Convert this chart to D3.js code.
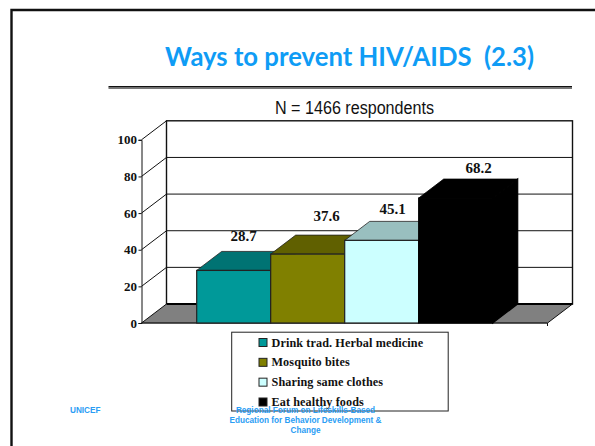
<!DOCTYPE html>
<html><head><meta charset="utf-8"><script src="https://cdn.jsdelivr.net/npm/d3@7"></script>
<style>html,body{margin:0;padding:0;background:#fff;overflow:hidden}svg{display:block}</style></head>
<body><svg id="c" width="595" height="446"></svg>
<script>
const categories = ["Drink trad. Herbal medicine","Mosquito bites","Sharing same clothes","Eat healthy foods"];
const values = [28.7,37.6,45.1,68.2];
const frontColors = ["#009999","#808000","#CCFFFF","#000000"];
const topColors = ["#007373","#606000","#99BFBF","#000000"];
const yTicks = [0,20,40,60,80,100];
const titleText = "Ways to prevent HIV/AIDS  (2.3)";
const subtitleText = "N = 1466 respondents";
const footerLeft = "UNICEF";
const footerCenter = ["Regional Forum on Lifeskills-Based","Education for Behavior Development &","Change"];
// label placement relative to each bar's centre and top (layout only)
const labelNudgeX = [10,19,11,23];
const labelNudgeY = [-29,-33,-26,-25.3];

const svg = d3.select("#c");
const blue = "#0f9cf5", serif = "'Liberation Serif',serif", sans = "'Liberation Sans',sans-serif";
const dx = 25, dy = -19;
const y = d3.scaleLinear().domain([0,100]).range([323,139.8]);
const x = d3.scaleBand().domain(categories).range([196.7,492.7]);
const xl = 141.5, xr = 547.5;

svg.append("path").attr("d","M11.5 446V10H595").attr("fill","none").attr("stroke","#111").attr("stroke-width",2.4);

svg.append("text").attr("x",349.5).attr("y",65.5).attr("text-anchor","middle")
  .attr("font-family","Lato,sans-serif").attr("font-weight",700).attr("font-size",25.7)
  .attr("fill",blue).style("white-space","pre").text(titleText);
svg.append("rect").attr("x",108.5).attr("y",86).attr("width",463.5).attr("height",1.6).attr("fill","#111");
svg.append("rect").attr("x",108.5).attr("y",87.6).attr("width",463.5).attr("height",1.4).attr("fill","#777");
svg.append("text").attr("x",354.5).attr("y",114).attr("text-anchor","middle")
  .attr("font-family",sans).attr("font-size",18).attr("textLength",159).attr("lengthAdjust","spacingAndGlyphs")
  .attr("fill","#111").text(subtitleText);

const g = svg.append("g");
g.append("rect").attr("x",xl+dx).attr("y",y(100)+dy).attr("width",xr-xl).attr("height",y(0)-y(100))
  .attr("fill","#fff").attr("stroke","#111").attr("stroke-width",1.4);
g.append("path").attr("d",`M${xl} ${y(0)}L${xl+dx} ${y(0)+dy}H${xr+dx}L${xr} ${y(0)}Z`).attr("fill","#808080");
g.append("line").attr("x1",xl+dx).attr("x2",xr+dx).attr("y1",y(0)+dy).attr("y2",y(0)+dy).attr("stroke","#000").attr("stroke-width",1.8);
g.selectAll("line.grid").data(yTicks.filter(d=>d>0&&d<100)).join("line").attr("class","grid")
  .attr("x1",xl+dx).attr("x2",xr+dx).attr("y1",d=>y(d)+dy).attr("y2",d=>y(d)+dy)
  .attr("stroke","#111").attr("stroke-width",1);
g.selectAll("line.side").data(yTicks).join("line").attr("class","side")
  .attr("x1",xl).attr("x2",xl+dx).attr("y1",d=>y(d)).attr("y2",d=>y(d)+dy)
  .attr("stroke","#111").attr("stroke-width",1);
g.append("line").attr("x1",xl).attr("x2",xr).attr("y1",y(0)).attr("y2",y(0)).attr("stroke","#222").attr("stroke-width",1.6);
g.append("line").attr("x1",xr).attr("x2",xr+dx).attr("y1",y(0)).attr("y2",y(0)+dy).attr("stroke","#111").attr("stroke-width",1);
g.append("line").attr("x1",xr).attr("x2",xr).attr("y1",y(0)).attr("y2",y(0)+3).attr("stroke","#111").attr("stroke-width",1);

const ax = svg.append("g").attr("transform",`translate(${xl},0)`)
  .call(d3.axisLeft(y).tickValues(yTicks).tickSize(3).tickPadding(1.5));
ax.selectAll("path,line").attr("stroke","#111").attr("stroke-width",1);
ax.selectAll("text").attr("font-family",serif).attr("font-weight",700).attr("font-size",13).attr("fill","#111");

const w = x.bandwidth();
const bars = svg.selectAll("g.bar").data(categories).join("g").attr("class","bar");
const edge = (i)=> i===3 ? "#000" : "#222";
bars.append("path").attr("d",(d,i)=>{const X=x(d),T=y(values[i]);
    return `M${X} ${T}L${X+dx} ${T+dy}H${X+w+dx}L${X+w} ${T}Z`;})
  .attr("fill",(d,i)=>topColors[i]).attr("stroke",(d,i)=>edge(i)).attr("stroke-width",0.8);
bars.append("path").attr("d",(d,i)=>{const X=x(d)+w,T=y(values[i]);
    return `M${X} ${T}L${X+dx} ${T+dy}V${y(0)+dy}L${X} ${y(0)}Z`;})
  .attr("fill",(d,i)=>i===3?"#000":"#808080")
  .attr("stroke",(d,i)=>i===3?"#000":"none").attr("stroke-width",1.2);
bars.append("rect").attr("x",d=>x(d)).attr("y",(d,i)=>y(values[i])).attr("width",w)
  .attr("height",(d,i)=>y(0)-y(values[i])).attr("fill",(d,i)=>frontColors[i])
  .attr("stroke",(d,i)=>edge(i)).attr("stroke-width",1.2);
svg.selectAll("text.val").data(categories).join("text").attr("class","val")
  .attr("x",(d,i)=>x(d)+w/2+labelNudgeX[i]).attr("y",(d,i)=>y(values[i])+labelNudgeY[i])
  .attr("text-anchor","middle").attr("font-family",serif).attr("font-weight",700)
  .attr("font-size",15).attr("fill","#111").text((d,i)=>values[i].toFixed(1));

svg.append("rect").attr("x",231.7).attr("y",332.2).attr("width",216.5).attr("height",78.8)
  .attr("fill","#fff").attr("stroke","#222").attr("stroke-width",1);
const rowY = d3.scalePoint().domain(categories).range([342.5,402]);
const lg = svg.selectAll("g.lg").data(categories).join("g").attr("class","lg")
  .attr("transform",d=>`translate(0,${rowY(d)})`);
lg.append("rect").attr("x",259).attr("y",-4).attr("width",8).attr("height",8)
  .attr("fill",(d,i)=>frontColors[i]).attr("stroke","#222").attr("stroke-width",1);
lg.append("text").attr("x",271.5).attr("y",4).attr("font-family",serif).attr("font-weight",700)
  .attr("font-size",12.2).attr("letter-spacing",0.1).attr("fill","#111").text(d=>d);

svg.append("text").attr("x",70).attr("y",413).attr("font-family",sans).attr("font-weight",700)
  .attr("font-size",8.2).attr("fill","#2a9df4").text(footerLeft);
svg.selectAll("text.ft").data(footerCenter).join("text").attr("class","ft")
  .attr("x",305.5).attr("y",(d,i)=>413+i*10.2).attr("text-anchor","middle")
  .attr("font-family",sans).attr("font-weight",700).attr("font-size",8.2).attr("fill","#2a9df4").text(d=>d);
</script></body></html>
